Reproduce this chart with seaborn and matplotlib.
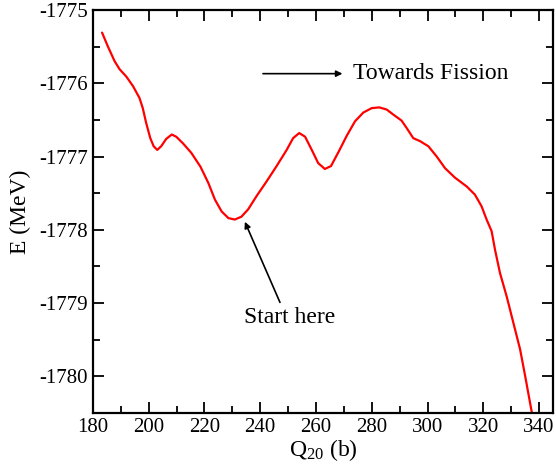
"""
Potential energy along the fission path, E vs Q20
"""

import matplotlib
matplotlib.use("Agg")
import matplotlib.pyplot as plt
import seaborn as sns
import pandas as pd
from matplotlib.ticker import MultipleLocator

# Data
q20 = [183.3, 185.4, 187.8, 189.6, 192.0, 194.4, 196.7, 197.9, 199.1, 200.6,
       201.8, 203.1, 204.5, 206.3, 208.3, 209.9, 212.3, 215.3, 218.6, 221.4,
       223.8, 226.2, 228.6, 230.9, 233.3, 235.7, 238.7, 242.3, 245.9, 249.5,
       251.8, 254.0, 256.1, 258.5, 260.8, 263.2, 265.4, 268.2, 271.0, 274.0,
       277.0, 280.0, 282.7, 285.4, 287.8, 290.7, 292.5, 294.9, 297.3, 300.3,
       303.3, 306.3, 309.9, 314.1, 317.0, 319.4, 321.2, 323.0, 324.2, 326.0,
       328.4, 331.4, 333.2, 335.0, 337.4]
energy = [-1775.31, -1775.50, -1775.70, -1775.81, -1775.91, -1776.04, -1776.20,
          -1776.34, -1776.54, -1776.75, -1776.86, -1776.91, -1776.86, -1776.76,
          -1776.70, -1776.73, -1776.82, -1776.95, -1777.14, -1777.36, -1777.59,
          -1777.75, -1777.84, -1777.86, -1777.82, -1777.72, -1777.54, -1777.34,
          -1777.13, -1776.91, -1776.75, -1776.68, -1776.73, -1776.91, -1777.09,
          -1777.17, -1777.13, -1776.93, -1776.72, -1776.52, -1776.40, -1776.34,
          -1776.33, -1776.36, -1776.43, -1776.51, -1776.61, -1776.75, -1776.79,
          -1776.86, -1777.00, -1777.16, -1777.29, -1777.41, -1777.52, -1777.68,
          -1777.86, -1778.02, -1778.27, -1778.59, -1778.91, -1779.36, -1779.63,
          -1779.99, -1780.49]

x_ticks = [180, 200, 220, 240, 260, 280, 300, 320, 340]
y_ticks = [-1780, -1779, -1778, -1777, -1776, -1775]


def main():
    sns.set_style("ticks")
    plt.rcParams["font.family"] = ["Liberation Serif", "DejaVu Serif"]
    plt.rcParams["mathtext.fontset"] = "custom"
    plt.rcParams["mathtext.rm"] = "Liberation Serif"
    plt.rcParams["mathtext.it"] = "Liberation Serif:italic"
    plt.rcParams["axes.unicode_minus"] = False
    plt.rcParams["text.color"] = "black"
    plt.rcParams["axes.labelcolor"] = "black"

    df = pd.DataFrame({"Q20": q20, "E": energy})

    fig = plt.figure(figsize=(5.56, 4.70), dpi=100)
    ax = fig.add_axes([0.167, 0.121, 0.8276, 0.858])

    sns.lineplot(data=df, x="Q20", y="E", color="red", linewidth=1.6,
                 sort=False, ax=ax)

    ax.set_xlim(180, 345)
    ax.set_ylim(-1780.5, -1775)
    ax.set_xticks(x_ticks)
    ax.set_yticks(y_ticks)
    ax.xaxis.set_minor_locator(MultipleLocator(10))
    ax.yaxis.set_minor_locator(MultipleLocator(0.5))
    ax.tick_params(which="both", direction="in", top=True, right=True,
                   width=1.3, labelsize=15, colors="black")
    ax.tick_params(which="major", length=8)
    ax.tick_params(which="minor", length=5)
    for sp in ax.spines.values():
        sp.set_visible(True)
        sp.set_linewidth(1.6)
        sp.set_color("black")

    ax.set_xlabel("Q$_{20}$ (b)", fontsize=17, labelpad=0)
    ax.set_ylabel("E (MeV)", fontsize=17, labelpad=6)

    # annotations
    ax.annotate("", xy=(269.5, -1775.87), xytext=(241, -1775.87),
                arrowprops=dict(arrowstyle="-|>", color="black", lw=1.2,
                                mutation_scale=9, shrinkA=0, shrinkB=0))
    ax.text(273.3, -1775.87, "Towards Fission", fontsize=17,
            va="center", ha="left")
    ax.annotate("", xy=(234.5, -1777.89), xytext=(247.1, -1778.99),
                arrowprops=dict(arrowstyle="-|>", color="black", lw=1.2,
                                mutation_scale=9, shrinkA=0, shrinkB=0))
    ax.text(250.7, -1779.2, "Start here", fontsize=17, va="center",
            ha="center")

    plt.savefig("out.png", dpi=100)
    plt.close()


if __name__ == "__main__":
    main()
